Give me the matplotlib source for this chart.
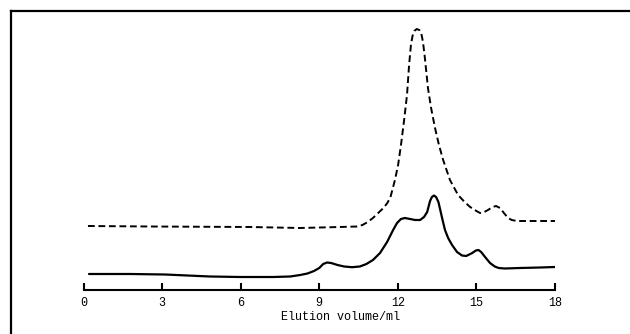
import matplotlib
matplotlib.use("Agg")
import matplotlib.pyplot as plt
from matplotlib.lines import Line2D

# elution volume (ml) and absorbance (arbitrary units)
dashed_x = [0.17, 2.54, 6.36, 8.27, 9.79, 10.44, 10.65, 10.85, 11.05, 11.25, 11.45, 11.60,
            11.72, 11.89, 12.01, 12.12, 12.24, 12.35, 12.43, 12.50, 12.56, 12.63, 12.72,
            12.82, 12.90, 12.96, 13.02, 13.08, 13.15, 13.27, 13.42, 13.57, 13.73, 13.99,
            14.30, 14.55, 14.76, 15.00, 15.14, 15.30, 15.44, 15.62, 15.75, 15.90, 16.05,
            16.21, 16.35, 16.55, 17.05, 18.00]
dashed_y = [0.64, 0.635, 0.63, 0.62, 0.63, 0.635, 0.65, 0.68, 0.72, 0.77, 0.82, 0.87,
            0.93, 1.10, 1.25, 1.45, 1.70, 1.95, 2.25, 2.45, 2.54, 2.59, 2.61,
            2.60, 2.56, 2.48, 2.35, 2.20, 2.02, 1.82, 1.62, 1.45, 1.30, 1.10,
            0.95, 0.88, 0.83, 0.79, 0.77, 0.78, 0.80, 0.83, 0.84, 0.82, 0.77,
            0.72, 0.70, 0.69, 0.69, 0.69]

solid_x = [0.21, 1.78, 3.11, 4.83, 5.98, 7.24, 7.89, 8.27, 8.55, 8.80, 9.00, 9.15, 9.30,
           9.45, 9.70, 9.95, 10.25, 10.55, 10.80, 11.05, 11.32, 11.59, 11.82, 11.97,
           12.12, 12.27, 12.47, 12.66, 12.85, 13.00, 13.12, 13.23, 13.30, 13.38, 13.46,
           13.55, 13.62, 13.69, 13.80, 13.92, 14.07, 14.26, 14.45, 14.61, 14.84, 14.98,
           15.08, 15.18, 15.33, 15.52, 15.70, 15.85, 16.09, 16.66, 17.43, 18.00]
solid_y = [0.16, 0.16, 0.155, 0.135, 0.13, 0.13, 0.135, 0.15, 0.165, 0.19, 0.22, 0.26, 0.275,
           0.27, 0.25, 0.235, 0.228, 0.235, 0.26, 0.30, 0.37, 0.48, 0.60, 0.67,
           0.71, 0.72, 0.71, 0.70, 0.70, 0.73, 0.78, 0.89, 0.93, 0.945, 0.93,
           0.88, 0.80, 0.72, 0.60, 0.52, 0.45, 0.38, 0.345, 0.34, 0.37, 0.395,
           0.40, 0.38, 0.33, 0.27, 0.235, 0.22, 0.215, 0.22, 0.225, 0.23]

xticks = [0, 3, 6, 9, 12, 15, 18]

mono = "Liberation Mono"

fig = plt.figure(figsize=(6.3, 3.34), dpi=100)
ax = fig.add_axes([83.5 / 630, 44 / 334, 471.5 / 630, 265 / 334])

ax.plot(dashed_x, dashed_y, color="black", linewidth=1.4, linestyle=(0, (3.5, 1.9)))
ax.plot(solid_x, solid_y, color="black", linewidth=1.6, solid_capstyle="round",
        solid_joinstyle="round")

ax.set_xlim(0, 18)
ax.set_ylim(0, 2.65)
ax.set_xticks(xticks)
ax.set_xticklabels([str(t) for t in xticks], fontfamily=mono, fontsize=8.5)
ax.set_yticks([])
for side in ("top", "right", "left"):
    ax.spines[side].set_visible(False)
ax.spines["bottom"].set_linewidth(1.5)
ax.tick_params(axis="x", direction="in", length=5, width=1.5, pad=5)
ax.set_xlabel("Elution volume/ml", fontfamily=mono, fontsize=8.5)
ax.xaxis.set_label_coords(0.546, -0.102)
ax.xaxis.label.set_verticalalignment("center")

# frame lines on the top and left of the figure
fig.add_artist(Line2D([11 / 630, 1], [1 - 11 / 334, 1 - 11 / 334], transform=fig.transFigure,
                      color="black", linewidth=1.6))
fig.add_artist(Line2D([11 / 630, 11 / 630], [0, 1 - 11 / 334], transform=fig.transFigure,
                      color="black", linewidth=1.6))

fig.savefig("out.png", dpi=100)
plt.close(fig)
